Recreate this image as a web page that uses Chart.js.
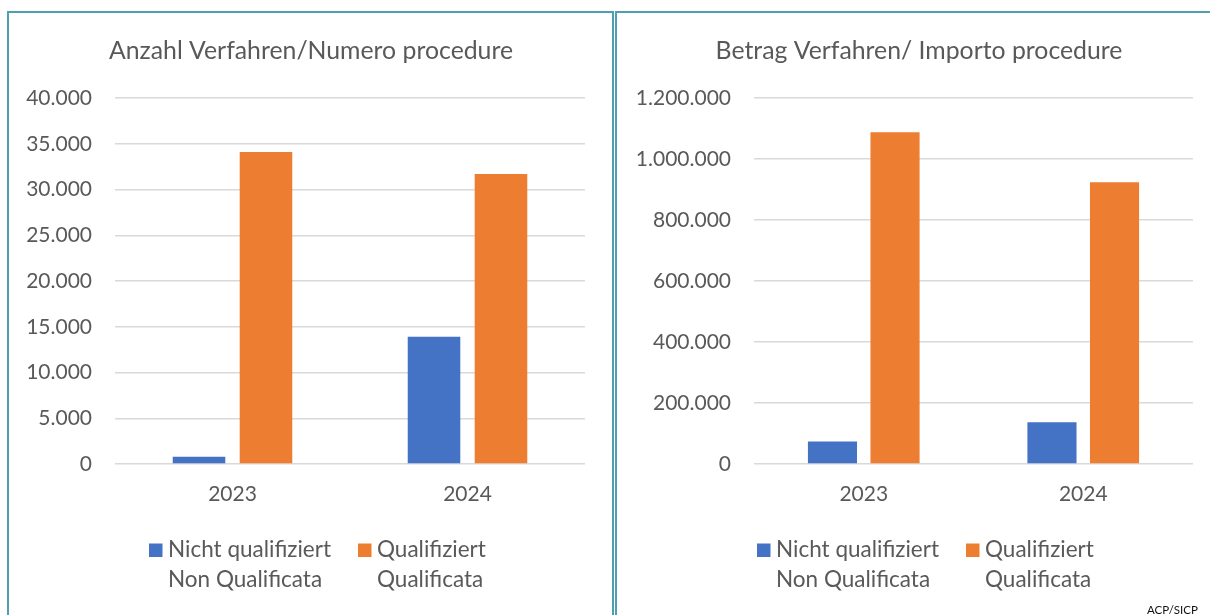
<!DOCTYPE html>
<html>
<head>
<meta charset="utf-8">
<script src="https://cdn.jsdelivr.net/npm/chart.js@4.4.1/dist/chart.umd.min.js"></script>
<style>
  html, body { margin: 0; padding: 0; background: #fff; }
  body { width: 1210px; height: 615px; overflow: hidden; position: relative; font-family: Lato, sans-serif; }
  .box { position: absolute; top: 11px; height: 700px; width: 607px; box-sizing: border-box; border: 2px solid #4f9fb3; }
  canvas { position: absolute; }
  #src { position: absolute; left: 1147px; top: 603px; font-size: 11.5px; color: #111; font-family: Lato, sans-serif; white-space: nowrap; }
</style>
</head>
<body>
<div class="box" style="left:7px"></div>
<div class="box" style="left:615px"></div>
<canvas id="c1" width="603" height="602" style="left:9px;top:13px;width:603px;height:602px"></canvas>
<canvas id="c2" width="603" height="602" style="left:617px;top:13px;width:603px;height:602px"></canvas>
<div id="src">ACP/SICP</div>
<script>
// ---- data ----
const categories = ['2023', '2024'];
const anzahlNichtQualifiziert = [800, 13900];
const anzahlQualifiziert = [34100, 31700];
const betragNichtQualifiziert = [74000, 136500];
const betragQualifiziert = [1088000, 924000];
const anzahlAxis = [0, 40000, 5000];      // min, max, step
const betragAxis = [0, 1200000, 200000];  // min, max, step
const seriesNames = [['Nicht qualifiziert', 'Non Qualificata'], ['Qualifiziert', 'Qualificata']];
const chartTitles = ['Anzahl Verfahren/Numero procedure', 'Betrag Verfahren/ Importo procedure'];
const seriesColors = ['#4472C4', '#ED7D31'];

const TEXT = '#595959';
const FONT = 'Lato';

function fmt(v) {
  return String(Math.round(v)).replace(/\B(?=(\d{3})+(?!\d))/g, '.');
}

const decor = {
  id: 'decor',
  afterDraw(chart, args, opts) {
    const ctx = chart.ctx;
    ctx.save();
    ctx.fillStyle = TEXT;
    ctx.textAlign = 'center';
    ctx.textBaseline = 'alphabetic';
    ctx.font = '24.8px ' + FONT;
    ctx.fillText(opts.title, 302, 46);
    ctx.textAlign = 'left';
    ctx.font = '22.5px ' + FONT;
    const xs = [140, 349];
    chart.data.datasets.forEach((ds, i) => {
      ctx.fillStyle = ds.backgroundColor;
      ctx.fillRect(xs[i], 530.5, 13.5, 13.5);
      ctx.fillStyle = TEXT;
      seriesNames[i].forEach((line, j) => {
        ctx.fillText(line, xs[i] + 19, 543.5 + j * 30);
      });
    });
    ctx.restore();
  }
};

function makeChart(id, title, nonQual, qual, axis) {
  return new Chart(document.getElementById(id), {
    type: 'bar',
    data: {
      labels: categories,
      datasets: [
        { label: seriesNames[0].join(' '), data: nonQual, backgroundColor: seriesColors[0],
          categoryPercentage: 0.57, barPercentage: 0.785 },
        { label: seriesNames[1].join(' '), data: qual, backgroundColor: seriesColors[1],
          categoryPercentage: 0.57, barPercentage: 0.785 }
      ]
    },
    options: {
      responsive: false,
      animation: false,
      devicePixelRatio: 1,
      layout: { padding: { top: 85, left: 0, right: 27, bottom: 91 } },
      plugins: {
        legend: { display: false },
        title: { display: false },
        tooltip: { enabled: false },
        decor: { title: title }
      },
      scales: {
        x: {
          grid: { display: false, drawTicks: false },
          border: { display: false },
          ticks: { color: TEXT, font: { family: FONT, size: 21 }, padding: 18 },
          afterFit: (s) => { s.height = 60; }
        },
        y: {
          min: axis[0], max: axis[1],
          grid: { color: '#D9D9D9', lineWidth: 1.5, drawTicks: false },
          border: { display: false },
          ticks: { stepSize: axis[2], color: TEXT, font: { family: FONT, size: 21 }, padding: 23,
                   callback: (v) => fmt(v) },
          afterFit: (s) => { s.width = (id === 'c1') ? 106 : 137; }
        }
      }
    },
    plugins: [decor]
  });
}

makeChart('c1', chartTitles[0], anzahlNichtQualifiziert, anzahlQualifiziert, anzahlAxis);
makeChart('c2', chartTitles[1], betragNichtQualifiziert, betragQualifiziert, betragAxis);
</script>
</body>
</html>
